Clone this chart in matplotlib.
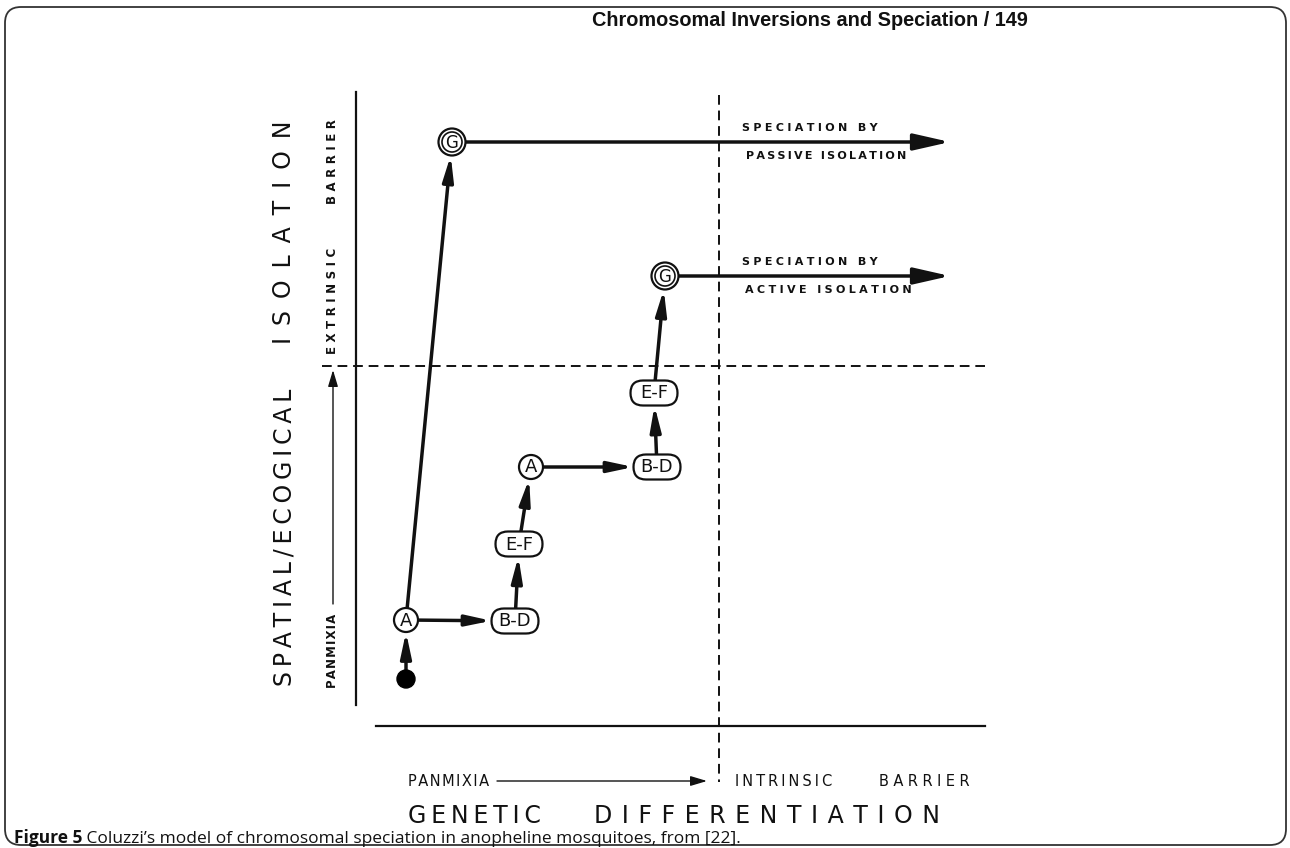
import matplotlib
matplotlib.use("Agg")
from matplotlib import pyplot as plt
from matplotlib.patches import Circle, FancyBboxPatch, FancyArrowPatch

# nodes of the diagram (pixel coordinates of the page)
node_labels = ["", "A", "B-D", "E-F", "A", "B-D", "E-F", "G", "G"]
node_kind = ["dot", "circle", "pill", "pill", "circle", "pill", "pill", "double", "double"]
node_x = [406, 406, 515, 519, 531, 657, 654, 665, 452]
node_y = [679, 620, 621, 544, 467, 467, 393, 276, 142]
edges = [(0, 1), (1, 8), (1, 2), (2, 3), (3, 4), (4, 5), (5, 6), (6, 7)]

# the two outgoing speciation arrows
spec_from = [8, 7]
spec_end_x = 950
spec_line1 = ["SPECIATION BY", "SPECIATION BY"]
spec_line2 = ["PASSIVE ISOLATION", "ACTIVE ISOLATION"]

header = "Chromosomal Inversions and Speciation / 149"
caption_bold = "Figure 5"
caption_rest = " Coluzzi\u2019s model of chromosomal speciation in anopheline mosquitoes, from [22]."

W, H = 1290, 848
fig = plt.figure(figsize=(W / 100, H / 100), dpi=100)
ax = fig.add_axes([0, 0, 1, 1])
ax.set_xlim(0, W)
ax.set_ylim(H, 0)
ax.axis("off")
r = fig.canvas.get_renderer()

PT = 0.72  # points per pixel
ink = "#111111"


def spaced(word, n):
    return ("\u200a" * n).join(word)


def fit_word(word, a, b, pos, size, weight="normal", vertical=False, family="DejaVu Sans", va="center"):
    # choose letter spacing so the word covers a..b
    target = abs(b - a)
    best, best_err = word, 1e9
    for n in range(0, 14):
        s = spaced(word, n)
        t = ax.text(0, 0, s, fontsize=size, fontweight=weight, family=family)
        w = t.get_window_extent(r).width
        t.remove()
        if abs(w - target) < best_err:
            best, best_err = s, abs(w - target)
    mid = (a + b) / 2
    if vertical:
        ax.text(pos, mid, best, fontsize=size, fontweight=weight, family=family,
                rotation=90, ha="center", va="center", color=ink)
    else:
        ax.text(mid, pos, best, fontsize=size, fontweight=weight, family=family,
                ha="center", va=va, color=ink)


# page border
ax.add_patch(FancyBboxPatch((5, 7), 1281, 838, boxstyle="round,pad=0,rounding_size=16",
                            fill=False, lw=1.3, ec="#333333"))

# header and caption
ax.text(1028, 20, header, fontsize=14.3, fontweight="bold", family="Liberation Sans",
        ha="right", va="center", color=ink)
cb = ax.text(14, 843, caption_bold, fontsize=12.5, fontweight="bold", family="Open Sans",
             ha="left", va="baseline", color=ink)
x_after = cb.get_window_extent(r).x1
ax.text(x_after, 843, caption_rest, fontsize=12.5, family="Open Sans",
        ha="left", va="baseline", color=ink)

# axes of the diagram
ax.plot([356, 356], [92, 705], color=ink, lw=1.6)
ax.plot([376, 985], [726, 726], color=ink, lw=1.6)
ax.plot([719, 719], [95, 782], color=ink, lw=1.4, ls=(0, (5, 3)))
ax.plot([322, 985], [366, 366], color=ink, lw=1.4, ls=(0, (5, 3)))

# axis labels
fit_word("SPATIAL/ECOGICAL", 682, 393, 284, 17, vertical=True)
fit_word("ISOLATION", 345, 120, 284, 17, vertical=True)
fit_word("PANMIXIA", 690, 612, 333, 8.5, weight="bold", vertical=True)
fit_word("EXTRINSIC", 352, 250, 333, 8.5, weight="bold", vertical=True)
fit_word("BARRIER", 203, 120, 333, 8.5, weight="bold", vertical=True)
ax.add_patch(FancyArrowPatch((333, 604), (333, 370), arrowstyle="-|>,head_length=1.0,head_width=0.3",
                             mutation_scale=10, lw=1.0, color=ink, shrinkA=0, shrinkB=0))

fit_word("PANMIXIA", 408, 490, 786, 10.5, va="baseline")
fit_word("INTRINSIC", 733, 835, 786, 10.5, va="baseline")
fit_word("BARRIER", 880, 968, 786, 10.5, va="baseline")
ax.add_patch(FancyArrowPatch((497, 781), (707, 781), arrowstyle="-|>,head_length=1.0,head_width=0.3",
                             mutation_scale=10, lw=1.0, color=ink, shrinkA=0, shrinkB=0))
fit_word("GENETIC", 408, 540, 823, 17, va="baseline")
fit_word("DIFFERENTIATION", 598, 935, 823, 17, va="baseline")


def half_extent(i, horizontal):
    k = node_kind[i]
    if k == "dot":
        return 9
    if k == "circle":
        return 12
    if k == "double":
        return 13.5
    return 23.5 if horizontal else 12.5


# edges
for a, b in edges:
    horiz = abs(node_x[b] - node_x[a]) > abs(node_y[b] - node_y[a])
    ax.add_patch(FancyArrowPatch((node_x[a], node_y[a]), (node_x[b], node_y[b]),
                                 arrowstyle="-|>,head_length=1.5,head_width=0.32",
                                 mutation_scale=10, lw=2.5, color=ink,
                                 shrinkA=half_extent(a, horiz) * PT,
                                 shrinkB=half_extent(b, horiz) * PT, zorder=2))

# speciation arrows with their labels
for i, n in enumerate(spec_from):
    y = node_y[n]
    ax.add_patch(FancyArrowPatch((node_x[n], y), (spec_end_x, y),
                                 arrowstyle="-|>,head_length=2.2,head_width=0.5",
                                 mutation_scale=10, lw=2.5, color=ink,
                                 shrinkA=13.5 * PT, shrinkB=0, zorder=2))
    fit_word(spec_line1[i], 742, 877, y - 14, 8, weight="bold")
    end2 = 911 if i == 0 else 914
    fit_word(spec_line2[i], 742, end2, y + 14, 8, weight="bold")

# nodes
for i, lab in enumerate(node_labels):
    x, y, k = node_x[i], node_y[i], node_kind[i]
    if k == "dot":
        ax.add_patch(Circle((x, y), 9, color="black", zorder=3))
        continue
    if k == "circle":
        ax.add_patch(Circle((x, y), 12, fc="white", ec=ink, lw=1.6, zorder=3))
        fs = 13
    elif k == "double":
        ax.add_patch(Circle((x, y), 13.5, fc="white", ec=ink, lw=1.6, zorder=3))
        ax.add_patch(Circle((x, y), 10, fc="white", ec=ink, lw=1.2, zorder=3))
        fs = 12
    else:
        ax.add_patch(FancyBboxPatch((x - 23.5, y - 12.5), 47, 25,
                                    boxstyle="round,pad=0,rounding_size=12.5",
                                    fc="white", ec=ink, lw=1.6, zorder=3))
        fs = 13
    ax.text(x, y + 0.5, lab, fontsize=fs, ha="center", va="center", color=ink, zorder=4)

fig.savefig("out.png", dpi=100, facecolor="white")
